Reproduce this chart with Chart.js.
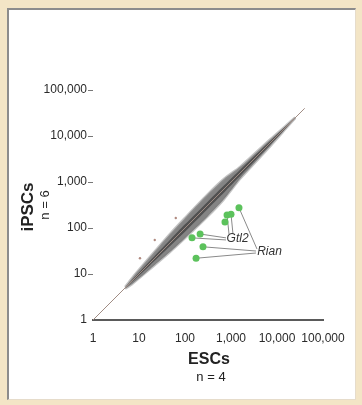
<!DOCTYPE html>
<html>
<head>
<meta charset="utf-8">
<script src="https://cdn.jsdelivr.net/npm/chart.js@4/dist/chart.umd.min.js"></script>
<style>
    html, body { margin: 0; padding: 0; }
    body { width: 362px; height: 405px; background: #f3e5c6; position: relative; overflow: hidden; }
    #panel {
        position: absolute; left: 7px; top: 8px; width: 346px; height: 389px;
        background: #fff; border-top: 2px solid #8c8c8c; border-left: 2px solid #8c8c8c;
        border-right: 1px solid #e6dccb; border-bottom: 1px solid #e6dccb;
    }
    #grafica { position: absolute; left: 0; top: 0; }
</style>
</head>
<body>
<div id="panel"></div>
<canvas id="grafica" width="362" height="405"></canvas>
<script>
// ticks de los dos ejes (log)
const tickValues = [1, 10, 100, 1000, 10000, 100000];
const tickLabels = ['1', '10', '100', '1,000', '10,000', '100,000'];

// nube de genes: bordes (ESCs -> iPSCs)
const cloudX        = [5, 7, 17, 47, 100, 300, 700, 1600, 7000, 16000, 25000];
const cloudUpper    = [5.2, 8.1, 23, 74, 166, 520, 1160, 2160, 8300, 17200, 25400];
const cloudLower    = [4.8, 6.0, 12.6, 30, 60, 172, 420, 1190, 5900, 14900, 24600];
const coreUpper     = [5.1, 7.3, 19, 55, 120, 360, 840, 1880, 7700, 16800, 25200];
const coreLower     = [4.9, 6.7, 15.2, 40, 83, 250, 583, 1360, 6350, 15300, 24800];

// diagonal y = x
const diagX = [1, 40000];
const diagY = [1, 40000];

// puntos sueltos
const outlierX = [63, 10.5, 22];
const outlierY = [165, 22, 55];

// genes marcados en verde
const greenX = [1490, 820, 1000, 740, 213, 142, 246, 174];
const greenY = [276, 192, 200, 135, 74, 61, 39, 22];

// lineas hacia las etiquetas (indice del punto verde -> extremo)
const gtl2From = [5, 4, 1, 2];
const gtl2ToX  = [778, 778, 905, 1105];
const gtl2ToY  = [55, 61, 74, 74];
const rianFrom = [0, 6, 7];
const rianToX  = [3670, 3490, 3490];
const rianToY  = [35, 31.6, 28.6];

// donde van los textos
const gtl2Label = { x: 800, y: 58 };
const rianLabel = { x: 3700, y: 30 };

const fuente = "'Liberation Sans', Arial, sans-serif";

function puntos(xs, ys) {
    return xs.map((x, i) => ({ x: x, y: ys[i] }));
}

const lineasGuia = [];
gtl2From.forEach((p, i) => lineasGuia.push([{ x: greenX[p], y: greenY[p] }, { x: gtl2ToX[i], y: gtl2ToY[i] }]));
rianFrom.forEach((p, i) => lineasGuia.push([{ x: greenX[p], y: greenY[p] }, { x: rianToX[i], y: rianToY[i] }]));

const datasets = [
    {
        type: 'line', label: 'nube', data: puntos(cloudX, cloudUpper),
        fill: '+1', backgroundColor: 'rgba(125,125,125,0.95)', borderColor: 'rgba(150,150,150,0.55)',
        borderWidth: 2.5, pointRadius: 0, tension: 0.25, order: 10
    },
    {
        type: 'line', label: 'nube inf', data: puntos(cloudX, cloudLower),
        fill: false, borderColor: 'rgba(150,150,150,0.55)', borderWidth: 2.5, pointRadius: 0, tension: 0.25, order: 10
    },
    {
        type: 'line', label: 'nucleo', data: puntos(cloudX, coreUpper),
        fill: '+1', backgroundColor: 'rgba(75,75,75,0.9)', borderWidth: 0, pointRadius: 0, tension: 0.25, order: 9
    },
    {
        type: 'line', label: 'nucleo inf', data: puntos(cloudX, coreLower),
        fill: false, borderWidth: 0, pointRadius: 0, tension: 0.25, order: 9
    },
    {
        type: 'line', label: 'diagonal', data: puntos(diagX, diagY),
        borderColor: '#a08c84', borderWidth: 1, pointRadius: 0, fill: false, order: 5
    },
    {
        label: 'sueltos', data: puntos(outlierX, outlierY),
        backgroundColor: '#b08a80', pointRadius: 1.2, borderWidth: 0, order: 6
    }
];

lineasGuia.forEach(seg => {
    datasets.push({
        type: 'line', label: 'guia', data: seg,
        borderColor: '#8a8a8a', borderWidth: 1, pointRadius: 0, fill: false, order: 3
    });
});

datasets.push({
    label: 'verdes', data: puntos(greenX, greenY),
    backgroundColor: '#5cc25c', pointRadius: 3.5, borderWidth: 0, order: 1
});

// textos de ejes y etiquetas
const textos = {
    id: 'textos',
    afterDraw(chart) {
        const c = chart.ctx;
        const sx = chart.scales.x, sy = chart.scales.y;
        c.save();
        c.fillStyle = '#222';
        c.textAlign = 'center';
        c.textBaseline = 'middle';

        c.font = 'bold 16px ' + fuente;
        c.fillText('ESCs', 209, 360);
        c.font = '13px ' + fuente;
        c.fillText('n = 4', 211, 377);

        c.save();
        c.translate(28, 207);
        c.rotate(-Math.PI / 2);
        c.font = 'bold 17px ' + fuente;
        c.fillText('iPSCs', 0, 0);
        c.restore();

        c.save();
        c.translate(45, 205);
        c.rotate(-Math.PI / 2);
        c.font = '13px ' + fuente;
        c.fillText('n = 6', 0, 0);
        c.restore();

        c.fillStyle = '#333';
        c.textAlign = 'left';
        c.font = 'italic 12px ' + fuente;
        c.fillText('Gtl2', sx.getPixelForValue(gtl2Label.x), sy.getPixelForValue(gtl2Label.y));
        c.fillText('Rian', sx.getPixelForValue(rianLabel.x), sy.getPixelForValue(rianLabel.y));
        c.restore();
    }
};

function fijarTicks(scale) {
    scale.ticks = tickValues.map(v => ({ value: v }));
}

new Chart(document.getElementById('grafica').getContext('2d'), {
    type: 'scatter',
    data: { datasets: datasets },
    options: {
        responsive: false,
        animation: false,
        layout: { padding: { top: 90, right: 39, left: 0, bottom: 0 } },
        plugins: {
            legend: { display: false },
            tooltip: { enabled: false }
        },
        scales: {
            x: {
                type: 'logarithmic', min: 1, max: 100000,
                afterBuildTicks: fijarTicks,
                afterFit: s => { s.height = 85; },
                grid: { display: false },
                border: { display: true, color: '#5a5a5a', width: 2 },
                ticks: {
                    color: '#2a2a2a', padding: 3, maxRotation: 0, autoSkip: false,
                    font: { family: fuente, size: 12 },
                    callback: (v, i) => tickLabels[i]
                }
            },
            y: {
                type: 'logarithmic', min: 1, max: 100000,
                afterBuildTicks: fijarTicks,
                afterFit: s => { s.width = 93; },
                grid: {
                    display: true, drawOnChartArea: false, drawTicks: true, tickLength: 5,
                    color: ctx => ctx.index === 0 ? 'rgba(0,0,0,0)' : '#777'
                },
                border: { display: false },
                ticks: {
                    color: '#2a2a2a', padding: 1, autoSkip: false,
                    font: { family: fuente, size: 12 },
                    callback: (v, i) => tickLabels[i]
                }
            }
        }
    },
    plugins: [textos]
});
</script>
</body>
</html>
